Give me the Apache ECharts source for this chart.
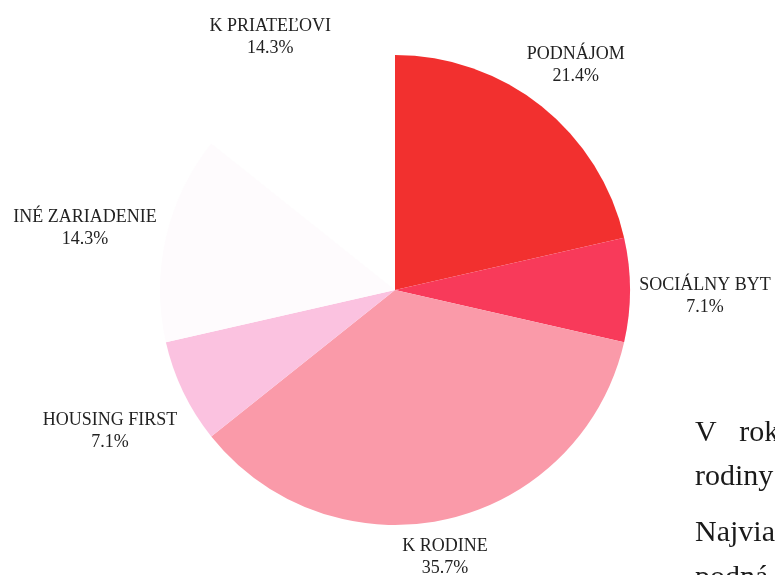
<!DOCTYPE html>
<html>
<head>
<meta charset="utf-8">
<script src="https://cdn.jsdelivr.net/npm/echarts@6/dist/echarts.min.js"></script>
<style>html,body{margin:0;padding:0;background:#fff}#c{width:775px;height:575px}</style>
</head>
<body>
<div id="c"></div>
<script>
var categories = ['PODNÁJOM', 'SOCIÁLNY BYT', 'K RODINE', 'HOUSING FIRST', 'INÉ ZARIADENIE', 'K PRIATEĽOVI'];
var values = [3, 1, 5, 1, 2, 2];
var percentLabels = ['21.4%', '7.1%', '35.7%', '7.1%', '14.3%', '14.3%'];
var bodyText = ['V   rok', 'rodiny', 'Najvia', 'podná'];

var colors = ['#f2302f', '#f83a5a', '#fa9aa9', '#fbc2e0', '#fefbfd', '#ffffff'];
var labelDist = [55, 75, 35, 78, 80, 55];
var labelDx = [-5, -5, -15, 2, 2, 6];
var labelDy = [2, 6, 4, 5, 8, 9];

var data = categories.map(function (c, i) {
  return {
    name: c,
    value: values[i],
    itemStyle: { color: colors[i] },
    labelLine: { show: false, length: labelDist[i], length2: 0 }
  };
});

var chart = echarts.init(document.getElementById('c'), null, { renderer: 'canvas' });
chart.setOption({
  animation: false,
  backgroundColor: '#ffffff',
  series: [{
    type: 'pie',
    center: [395, 290],
    radius: [0, 235],
    startAngle: 90,
    clockwise: true,
    avoidLabelOverlap: false,
    data: data,
    label: {
      show: true,
      position: 'outside',
      formatter: function (p) { return p.name + '\n' + percentLabels[p.dataIndex]; },
      fontFamily: 'Liberation Serif',
      fontSize: 18,
      lineHeight: 22,
      color: '#222222',
      align: 'center'
    },
    labelLine: { show: false },
    labelLayout: function (p) {
      return { align: 'center', dx: labelDx[p.dataIndex], dy: labelDy[p.dataIndex] };
    }
  }],
  graphic: bodyText.map(function (t, i) {
    var ys = [445, 489, 545, 590];
    return {
      type: 'text',
      left: 695,
      top: ys[i] - 27,
      style: { text: t, font: '30px "Liberation Serif"', fill: '#1a1a1a' }
    };
  })
});
</script>
</body>
</html>
